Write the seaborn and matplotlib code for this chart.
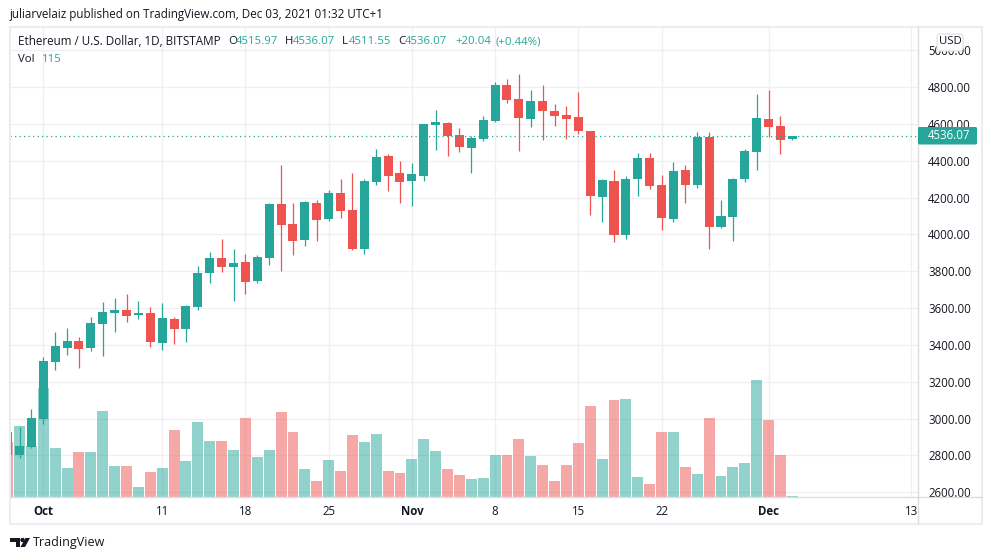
import matplotlib
matplotlib.use("Agg")
import matplotlib.pyplot as plt
import numpy as np
import pandas as pd
import seaborn as sns
from matplotlib.patches import Circle, FancyBboxPatch, Polygon, Rectangle
from matplotlib.transforms import Affine2D

W, H = 992, 560
UP = "#26a69a"
DOWN = "#ef5350"
INK = "#131722"
GRID = "#f0f0f3"
BORDER = "#ececf1"

# daily candles, Sep 28 is day 0
opens = [2927, 2802, 2846, 2998, 3307, 3383, 3421, 3383, 3514, 3573, 3590, 3563, 3573, 3410, 3541, 3487, 3606,
         3791, 3872, 3823, 3850, 3747, 3872, 4165, 4057, 3970, 4171, 4084, 4225, 4133, 3921, 4285, 4426, 4334,
         4290, 4317, 4594, 4605, 4540, 4469, 4518, 4616, 4811, 4736, 4627, 4725, 4670, 4649, 4638, 4562, 4203,
         4290, 3997, 4301, 4415, 4269, 4084, 4350, 4269, 4529, 4040, 4095, 4301, 4448, 4627, 4589, 4515.97]
highs = [2927, 2954, 3052, 3335, 3470, 3492, 3443, 3552, 3633, 3655, 3677, 3639, 3606, 3628, 3552, 3617, 3829,
         3905, 3975, 3921, 3894, 3889, 4171, 4377, 4171, 4182, 4187, 4241, 4301, 4334, 4301, 4464, 4437, 4399,
         4388, 4600, 4676, 4611, 4578, 4535, 4643, 4828, 4844, 4871, 4784, 4811, 4708, 4698, 4774, 4562, 4301,
         4350, 4317, 4442, 4442, 4323, 4393, 4377, 4556, 4556, 4187, 4307, 4464, 4763, 4784, 4643, 4536.07]
lows = [2802, 2786, 2840, 2971, 3264, 3345, 3275, 3367, 3340, 3470, 3525, 3541, 3389, 3373, 3405, 3416, 3590,
        3736, 3796, 3639, 3677, 3736, 3834, 3802, 3889, 3937, 3964, 4073, 4089, 3916, 3894, 4269, 4236, 4171,
        4155, 4290, 4459, 4426, 4448, 4334, 4507, 4610, 4714, 4453, 4583, 4513, 4589, 4518, 4545, 4106, 4068,
        3959, 3975, 4209, 4247, 4024, 4068, 4171, 4252, 3921, 4035, 3964, 4285, 4350, 4529, 4437, 4511.55]
closes = [2802, 2851, 3003, 3313, 3394, 3421, 3378, 3519, 3579, 3590, 3557, 3573, 3416, 3546, 3487, 3611, 3791,
          3872, 3823, 3845, 3742, 3878, 4165, 4051, 3964, 4176, 4078, 4225, 4127, 3921, 4290, 4421, 4317, 4285,
          4328, 4600, 4611, 4535, 4475, 4524, 4622, 4811, 4730, 4632, 4725, 4670, 4643, 4627, 4562, 4209, 4296,
          3997, 4301, 4415, 4263, 4089, 4345, 4269, 4529, 4040, 4100, 4301, 4453, 4632, 4583, 4513, 4536.07]
volumes = [5500, 7100, 5100, 10900, 4900, 2900, 4500, 4500, 8600, 3100, 3100, 1000, 2500, 2900, 6700, 3600, 7500,
           5600, 5600, 4700, 7900, 4000, 4700, 8500, 6500, 2800, 1600, 3700, 2600, 6200, 5500, 6300, 2600, 2400,
           3800, 5800, 4600, 2800, 2200, 1800, 1900, 4200, 4200, 5800, 4100, 3200, 1600, 3200, 5400, 9100, 3800,
           9700, 9800, 2000, 1300, 6500, 6500, 3000, 2300, 7900, 2100, 3000, 3400, 11700, 7700, 4200, 115]

price_ticks = [2600, 2800, 3000, 3200, 3400, 3600, 3800, 4000, 4200, 4400, 4600, 4800, 5000]
date_ticks = [3, 13, 20, 27, 34, 41, 48, 55, 64, 76]
date_labels = ["Oct", "11", "18", "25", "Nov", "8", "15", "22", "Dec", "13"]
last_price = 4536.07

df = pd.DataFrame({"day": np.arange(len(opens)), "open": opens, "high": highs, "low": lows,
                   "close": closes, "volume": volumes})
df["direction"] = np.where(df["close"] >= df["open"], "up", "down")
colors = {"up": UP, "down": DOWN}

sns.set_theme(style="white")
plt.rcParams["font.family"] = ["Open Sans", "DejaVu Sans"]

fig = plt.figure(figsize=(W / 100, H / 100), dpi=100, facecolor="white")
# pixel coordinates with the origin at the top left
px = Affine2D().scale(1, -1).translate(0, H)


def label(x, y, s, color=INK, size=8.2, ha="left", weight="normal", zorder=10):
    fig.text(x / W, 1 - y / H, s, color=color, fontsize=size, ha=ha, va="center", fontweight=weight, zorder=zorder)


ax = fig.add_axes([10 / W, 1 - 497 / H, 908 / W, 470 / H])
ax.set_xlim(0.2, 76.57)
ax.set_ylim(2574.5, 5126.5)
ax.grid(True, color=GRID, linewidth=1.0)
for spine in ax.spines.values():
    spine.set_visible(False)

# volume pane
ax_vol = ax.twinx()
sns.barplot(data=df, x="day", y="volume", hue="direction", palette=colors, hue_order=["up", "down"],
            native_scale=True, dodge=False, width=0.92, alpha=0.5, linewidth=0, saturation=1,
            errorbar=None, legend=False, ax=ax_vol)
ax_vol.set_xlim(0.2, 76.57)
ax_vol.set_ylim(0, 47000)
ax_vol.axis("off")

# candles
ax_price = ax.twinx()
ax_price.set_xlim(0.2, 76.57)
ax_price.set_ylim(2574.5, 5126.5)
ax_price.axis("off")
candle_colors = df["direction"].map(colors)
ax_price.vlines(df["day"], df["low"], df["high"], colors=candle_colors, linewidth=0.9)
ax_price.bar(df["day"], (df["close"] - df["open"]).abs(), bottom=df[["open", "close"]].min(axis=1),
             width=0.76, color=candle_colors, linewidth=0)
ax_price.axhline(last_price, color=UP, linewidth=0.9, linestyle=(0, (1, 2.6)))

# twinx moves the ticks back to the left, so set them up last
ax.set_yticks(price_ticks, [f"{p}.00" for p in price_ticks])
ax.set_xticks(date_ticks, date_labels)
ax.yaxis.tick_right()
ax.tick_params(axis="y", length=0, pad=7.2, labelsize=8.3, labelcolor=INK)
ax.tick_params(axis="x", length=0, pad=5.5, labelsize=8.3, labelcolor=INK)
for tick, text in zip(ax.get_xticklabels(), date_labels):
    if text in ("Oct", "Nov", "Dec"):
        tick.set_fontweight("bold")

# frame around the chart and the price/time panes
fig.add_artist(Rectangle((10, 27), 972, 497, transform=px, fill=False, edgecolor=BORDER, linewidth=1.5, zorder=6))
fig.add_artist(plt.Line2D([918, 918], [27, 524], transform=px, color="#dcdde1", linewidth=1.0, zorder=6))
fig.add_artist(plt.Line2D([10, 982], [497, 497], transform=px, color="#dcdde1", linewidth=1.0, zorder=6))

# last price tag and currency badge
fig.add_artist(FancyBboxPatch((918, 127), 59, 17.5, transform=px, boxstyle="round,pad=0,rounding_size=1.5",
                              facecolor=UP, edgecolor="none", zorder=7))
label(970, 135.5, "4536.07", color="white", size=8.3, ha="right")
fig.add_artist(FancyBboxPatch((937, 34), 26, 17, transform=px, boxstyle="round,pad=0,rounding_size=3",
                              facecolor="white", edgecolor="#dcdde1", linewidth=0.8, zorder=7))
label(950, 42, "USD", ha="center")

# header and legend texts
label(10, 14.5, "juliarvelaiz published on TradingView.com, Dec 03, 2021 01:32 UTC+1", size=8.4)
label(18, 41.5, "Ethereum / U.S. Dollar, 1D, BITSTAMP", size=8.4)
label(228, 41.5, "O")
label(236, 41.5, "4515.97", color=UP)
label(285, 41.5, "H")
label(293, 41.5, "4536.07", color=UP)
label(342, 41.5, "L")
label(349, 41.5, "4511.55", color=UP)
label(398, 41.5, "C")
label(405, 41.5, "4536.07", color=UP)
label(455, 41.5, "+20.04", color=UP)
label(495, 41.5, "(+0.44%)", color=UP)
label(18, 59, "Vol")
label(42, 59, "115", color=UP)

# TradingView logo and name
logo = "#131722"
fig.add_artist(Polygon([(10, 538), (20, 538), (20, 547), (15.5, 547), (15.5, 542), (10, 542)], transform=px,
                       facecolor=logo, edgecolor="none", zorder=7))
fig.add_artist(Circle((22.5, 540), 2.2, transform=px, facecolor=logo, edgecolor="none", zorder=7))
fig.add_artist(Polygon([(25.5, 538), (30, 538), (25, 547), (20.5, 547)], transform=px,
                       facecolor=logo, edgecolor="none", zorder=7))
label(33, 542.5, "TradingView", size=9.0)

fig.savefig("out.png", dpi=100, facecolor="white")
